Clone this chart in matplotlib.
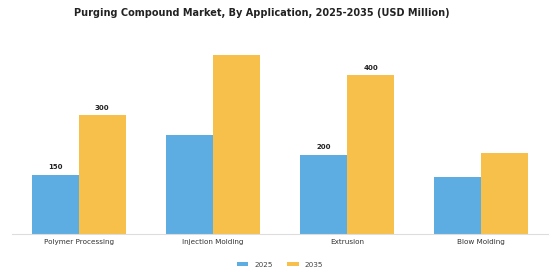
import matplotlib
matplotlib.use("Agg")
import matplotlib.pyplot as plt
import numpy as np

categories = ["Polymer Processing", "Injection Molding", "Extrusion", "Blow Molding"]
values_2025 = [150, 250, 200, 145]
values_2035 = [300, 450, 400, 205]
labels_2025 = ["150", None, "200", None]
labels_2035 = ["300", None, "400", None]
series_names = ["2025", "2035"]
colors = ["#5DADE2", "#F7C04A"]

fig = plt.figure(figsize=(5.6, 2.8), dpi=100)
ax = fig.add_axes([0.021, 0.163, 0.958, 0.705])

x = np.arange(len(categories))
w = 0.35
b1 = ax.bar(x - w/2, values_2025, w, color=colors[0], label=series_names[0])
b2 = ax.bar(x + w/2, values_2035, w, color=colors[1], label=series_names[1])

for bars, labs in ((b1, labels_2025), (b2, labels_2035)):
    for rect, lab in zip(bars, labs):
        if lab:
            ax.annotate(lab, (rect.get_x() + rect.get_width()/2, rect.get_height()),
                        xytext=(0, 3), textcoords="offset points",
                        ha="center", va="bottom", fontsize=5, fontweight="bold",
                        color="#222222")

ax.set_xlim(-0.5, len(categories) - 0.5)
ax.set_ylim(0, 495)
ax.set_xticks(x)
ax.set_xticklabels(categories, fontsize=5.2, color="#333333")
ax.tick_params(axis="x", length=0, pad=3)
ax.set_yticks([])
for s in ("top", "right", "left"):
    ax.spines[s].set_visible(False)
ax.spines["bottom"].set_color("#dddddd")
ax.spines["bottom"].set_linewidth(0.8)

fig.text(0.467, 0.955, "Purging Compound Market, By Application, 2025-2035 (USD Million)",
         ha="center", va="center", fontsize=7, fontweight="bold", color="#222222")

fig.legend(handles=[b1, b2], labels=series_names, loc="center", bbox_to_anchor=(0.5, 0.055),
           ncol=2, frameon=False, fontsize=5.2, handlelength=1.6, handleheight=0.5,
           columnspacing=2.0, handletextpad=0.8, labelcolor="#444444")

fig.savefig("out.png", dpi=100)
